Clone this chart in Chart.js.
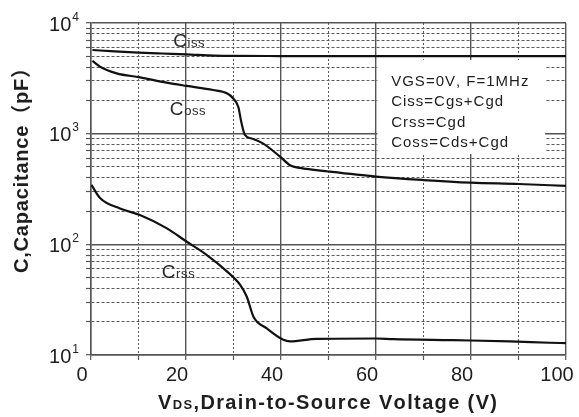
<!DOCTYPE html>
<html>
<head>
<meta charset="utf-8">
<script src="https://cdn.jsdelivr.net/npm/chart.js@4.4.1/dist/chart.umd.min.js"></script>
<style>
  html, body { margin: 0; padding: 0; background: #fff; }
  #wrap { width: 579px; height: 417px; position: relative; }
</style>
</head>
<body>
<div id="wrap"><canvas id="c" width="579" height="417"></canvas></div>
<script>
// Capacitance vs. drain-source voltage (VGS = 0 V, f = 1 MHz)
const cissVoltage = [0.3, 5, 10, 15, 20, 26, 30, 40, 50, 60, 70, 80, 90, 100];
const cissPf      = [5700, 5530, 5400, 5300, 5210, 5070, 5040, 5030, 5030, 5030, 5025, 5020, 5020, 5020];

const cossVoltage = [0.3, 1.9, 5.4, 10.3, 15.9, 20.1, 25.7, 28.6, 29.9, 31, 31.7, 32.4, 34, 36.2, 39.8, 42, 44, 50, 60, 70, 80, 90, 100];
const cossPf      = [4540, 4030, 3510, 3230, 2890, 2700, 2480, 2315, 2090, 1750, 1240, 975, 900, 818, 620, 515, 490, 455, 409, 381, 361, 351, 337];

const crssVoltage = [0.1, 1.9, 6.1, 10.3, 15.9, 20.1, 24.4, 28.6, 31.4, 32.8, 34.2, 37, 40.5, 41.9, 47.5, 60, 63.6, 76.2, 88.2, 96.6, 100];
const crssPf      = [344, 262, 211, 184, 140, 106, 80, 57, 43, 33.6, 22.2, 17.4, 13.7, 13.3, 14.0, 14.1, 13.9, 13.6, 13.3, 12.9, 12.8];

// Axis ranges and tick values
const xMin = 0, xMax = 100, xStep = 10, xLabelEvery = 20;
const yDecades = [10, 100, 1000, 10000];
const yMinorSteps = [1, 2, 3, 4, 5, 6, 7, 8, 9];

// Text drawn on the plot
const conditionLines = ['VGS=0V, F=1MHz', 'Ciss=Cgs+Cgd', 'Crss=Cgd', 'Coss=Cds+Cgd'];
const curveNames = [
  { main: 'C', sub: 'iss', at: { x: 17.3, y: 6070 } },
  { main: 'C', sub: 'oss', at: { x: 16.6, y: 1475 } },
  { main: 'C', sub: 'rss', at: { x: 14.9, y: 49.7 } }
];
const xTitleParts = [
  { text: 'V', size: 20 },
  { text: 'DS', size: 13 },
  { text: ',Drain-to-Source Voltage (V)', size: 20 }
];
const yTitle = 'C,Capacitance（pF）';

const FAMILY = "'Liberation Sans', Arial, 'Noto Sans CJK SC', sans-serif";
const TEXT = '#1e1e1e';

const yGridValues = [];
yDecades.forEach((d, i) => {
  if (i === yDecades.length - 1) { yGridValues.push(d); return; }
  yMinorSteps.forEach(m => yGridValues.push(d * m));
});
const isDecade = v => Math.abs(Math.log10(v) - Math.round(Math.log10(v))) < 1e-9;

const toPoints = (xs, ys) => xs.map((x, i) => ({ x, y: ys[i] }));

function runWidth(ctx, segs, spacing) {
  let w = 0, n = 0;
  segs.forEach(s => {
    ctx.font = s.font;
    for (const ch of s.text) { w += ctx.measureText(ch).width; n++; }
  });
  return w + spacing * (n - 1);
}
function drawRun(ctx, segs, x, y, spacing) {
  segs.forEach(s => {
    ctx.font = s.font;
    for (const ch of s.text) {
      ctx.fillText(ch, x, y + (s.dy || 0));
      x += ctx.measureText(ch).width + spacing;
    }
  });
}

const decorations = {
  id: 'decorations',
  beforeDatasetsDraw(chart) {
    const { ctx, scales: { x, y } } = chart;
    // white legend panel over the grid
    const l = x.getPixelForValue(60.3), r = x.getPixelForValue(95.6);
    const t = y.getPixelForValue(4634), b = y.getPixelForValue(655);
    ctx.save();
    ctx.fillStyle = '#fff';
    ctx.fillRect(l, t, r - l, b - t);
    ctx.restore();
  },
  afterDatasetsDraw(chart) {
    const { ctx, scales: { x, y } } = chart;
    ctx.save();
    ctx.fillStyle = TEXT;
    ctx.textAlign = 'left';
    ctx.textBaseline = 'alphabetic';
    // test conditions
    const tx = x.getPixelForValue(63.2);
    const ty = y.getPixelForValue(4634);
    conditionLines.forEach((line, i) => {
      drawRun(ctx, [{ text: line, font: `15px ${FAMILY}` }], tx, ty + 26 + i * 20.3, 1);
    });
    // curve names
    ctx.fillStyle = '#2a2a2a';
    curveNames.forEach(c => {
      const px = x.getPixelForValue(c.at.x), py = y.getPixelForValue(c.at.y);
      drawRun(ctx, [
        { text: c.main, font: `19px ${FAMILY}` },
        { text: c.sub, font: `13px ${FAMILY}` }
      ], px, py, 0.6);
    });
    ctx.restore();
  },
  afterDraw(chart) {
    const { ctx, scales: { x, y } } = chart;
    ctx.save();
    ctx.fillStyle = TEXT;
    ctx.textBaseline = 'alphabetic';
    // y tick labels as powers of ten
    y.ticks.forEach(tk => {
      if (!isDecade(tk.value)) return;
      const py = y.getPixelForValue(tk.value);
      const exp = String(Math.round(Math.log10(tk.value)));
      ctx.font = `12px ${FAMILY}`;
      ctx.textAlign = 'right';
      ctx.fillText(exp, 79, py - 2.5);
      const ew = ctx.measureText(exp).width;
      ctx.font = `20px ${FAMILY}`;
      ctx.fillText('10', 79 - ew - 1, py + 7.5);
    });
    ctx.textAlign = 'left';
    // x axis title
    const xSegs = xTitleParts.map(p => ({ text: p.text, font: `bold ${p.size}px ${FAMILY}` }));
    const xNat = runWidth(ctx, xSegs, 0);
    const nChars = xTitleParts.reduce((n, p) => n + [...p.text].length, 0);
    const xSp = (339 - xNat) / (nChars - 1);
    const xw = runWidth(ctx, xSegs, xSp);
    const cx = (chart.chartArea.left + chart.chartArea.right) / 2 - 1;
    drawRun(ctx, xSegs, cx - xw / 2, 408.5, xSp);
    // y axis title
    const ySegs = [{ text: yTitle, font: `bold 20px ${FAMILY}` }];
    const yNat = runWidth(ctx, ySegs, 0);
    const ySp = (215 - yNat) / ([...yTitle].length - 1);
    const yw = runWidth(ctx, ySegs, ySp);
    ctx.translate(28, 165.5);
    ctx.rotate(-Math.PI / 2);
    drawRun(ctx, ySegs, -yw / 2, 0, ySp);
    ctx.restore();
  }
};

const lineStyle = {
  borderColor: '#111',
  borderWidth: 2.2,
  pointRadius: 0,
  fill: false,
  cubicInterpolationMode: 'monotone'
};

new Chart(document.getElementById('c'), {
  type: 'line',
  data: {
    datasets: [
      { label: 'Ciss', data: toPoints(cissVoltage, cissPf), ...lineStyle },
      { label: 'Coss', data: toPoints(cossVoltage, cossPf), ...lineStyle },
      { label: 'Crss', data: toPoints(crssVoltage, crssPf), ...lineStyle }
    ]
  },
  options: {
    responsive: false,
    animation: false,
    devicePixelRatio: 1,
    layout: { padding: { left: 0, right: 13, top: 23, bottom: 0 } },
    plugins: { legend: { display: false }, tooltip: { enabled: false } },
    scales: {
      x: {
        type: 'linear',
        min: xMin, max: xMax,
        afterFit(s) { s.height = 62; s.paddingLeft = 0; s.paddingRight = 0; },
        ticks: {
          stepSize: xStep,
          autoSkip: false,
          maxRotation: 0,
          padding: 3,
          labelOffset: -9,
          color: TEXT,
          font: { family: FAMILY, size: 20 },
          callback: v => (v % xLabelEvery === 0 ? String(v) : '')
        },
        grid: {
          color: c => (c.tick && c.tick.value % xLabelEvery !== 0 ? '#5a5a5a' : '#555'),
          lineWidth: c => (c.tick && c.tick.value % xLabelEvery !== 0 ? 1 : 1.4),
          tickLength: 5,
          tickColor: '#555',
          tickWidth: 1.2
        },
        border: {
          color: '#555',
          width: 1.5,
          dash: c => (c.tick && c.tick.value % xLabelEvery !== 0 ? [2, 2] : [])
        }
      },
      y: {
        type: 'logarithmic',
        min: yDecades[0], max: yDecades[yDecades.length - 1],
        afterBuildTicks(s) { s.ticks = yGridValues.map(v => ({ value: v })); },
        afterFit(s) { s.width = 91; s.paddingTop = 0; s.paddingBottom = 0; },
        ticks: {
          autoSkip: false,
          padding: 0,
          callback: () => ''
        },
        grid: {
          color: c => (c.tick && !isDecade(c.tick.value) ? '#5a5a5a' : '#555'),
          lineWidth: c => (c.tick && !isDecade(c.tick.value) ? 1 : 1.4),
          tickLength: 5,
          tickColor: '#555',
          tickWidth: 1.2
        },
        border: {
          color: '#555',
          width: 1.5,
          dash: c => (c.tick && !isDecade(c.tick.value) ? [3, 2] : [])
        }
      }
    }
  },
  plugins: [decorations]
});
</script>
</body>
</html>
